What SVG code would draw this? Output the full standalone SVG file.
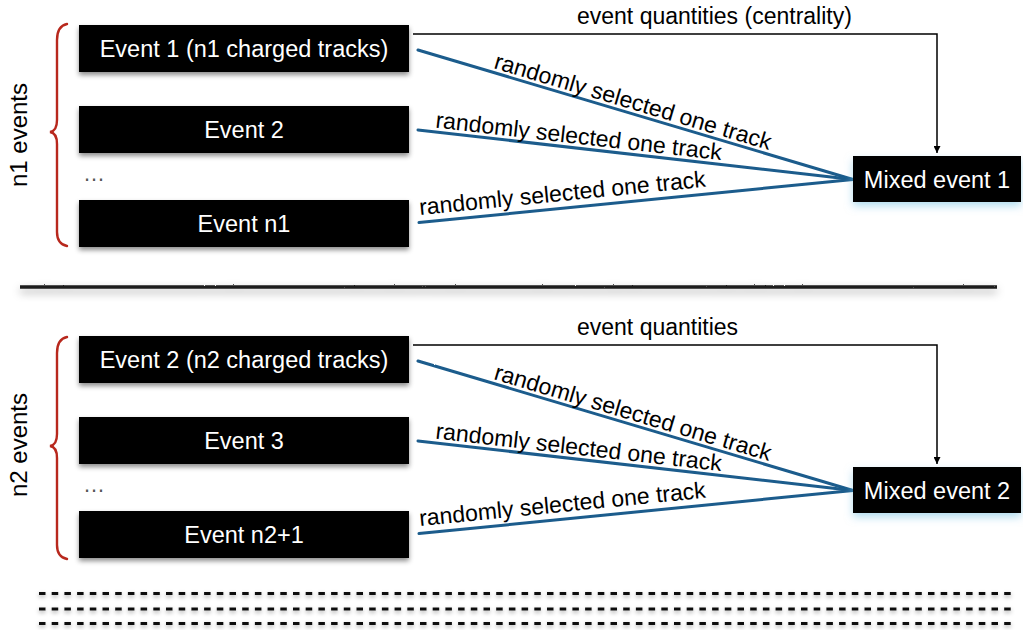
<svg xmlns="http://www.w3.org/2000/svg" width="1023" height="630" viewBox="0 0 1023 630">
<defs>
<style>
.box{fill:#000}
.bt{font-family:"Liberation Sans",Arial,sans-serif;font-size:23.5px;fill:#fff;text-anchor:middle}
.lbl{font-family:"Liberation Sans",Arial,sans-serif;font-size:23px;fill:#000}
.side{font-family:"Liberation Sans",Arial,sans-serif;font-size:24px;fill:#000;text-anchor:middle}
.dots{font-family:"Liberation Sans",Arial,sans-serif;font-size:22px;fill:#555}
.brace{fill:none;stroke:#b8281d;stroke-width:2.4;stroke-linecap:round}
.track{fill:none;stroke:#1a5b8c;stroke-width:3;stroke-linecap:round}
.qty{fill:none;stroke:#000;stroke-width:1.5}
.sep{stroke:#1a1a1a;stroke-width:3.5}
.dash{stroke:#111;stroke-width:3;stroke-dasharray:6.5 6.2}
</style>
<filter id="shadow" x="-10%" y="-30%" width="120%" height="180%">
<feDropShadow dx="0" dy="3" stdDeviation="2.5" flood-color="#000" flood-opacity="0.45"/>
</filter>
<filter id="dshadow" filterUnits="userSpaceOnUse" x="0" y="580" width="1023" height="50">
<feDropShadow dx="0" dy="2" stdDeviation="2" flood-color="#000" flood-opacity="0.35"/>
</filter>
<filter id="glow" x="-10%" y="-30%" width="120%" height="180%">
<feDropShadow dx="0" dy="4" stdDeviation="4" flood-color="#7cc6e4" flood-opacity="0.6"/>
</filter>
<filter id="rough" filterUnits="userSpaceOnUse" x="0" y="0" width="1023" height="630">
<feTurbulence type="fractalNoise" baseFrequency="0.9" numOctaves="1" seed="3" result="n"/>
<feDisplacementMap in="SourceGraphic" in2="n" scale="1.5" xChannelSelector="R" yChannelSelector="G"/>
</filter>
<filter id="sepshadow" filterUnits="userSpaceOnUse" x="0" y="270" width="1023" height="40">
<feTurbulence type="fractalNoise" baseFrequency="0.9" numOctaves="1" seed="5" result="n"/>
<feDisplacementMap in="SourceGraphic" in2="n" scale="2" xChannelSelector="R" yChannelSelector="G" result="d"/>
<feDropShadow in="d" dx="0" dy="4" stdDeviation="4" flood-color="#000" flood-opacity="0.35"/>
</filter>
<marker id="arrow" viewBox="0 0 10 10" refX="10" refY="5" markerWidth="7" markerHeight="7" markerUnits="userSpaceOnUse" orient="auto">
<path d="M0,0 L10,5 L0,10 z" fill="#000"/>
</marker>
</defs>
<rect width="1023" height="630" fill="#fff"/>

<g id="connectors">
<path class="qty" d="M413,34 H937 V153" marker-end="url(#arrow)"/>
<g filter="url(#rough)">
<line class="track" x1="418" y1="50" x2="853" y2="179.5"/>
<line class="track" x1="418" y1="130" x2="853" y2="179.5"/>
<line class="track" x1="419" y1="222.5" x2="853" y2="179.5"/>
</g>
<text class="lbl" x="577" y="24">event quantities (centrality)</text>
<text class="lbl" transform="translate(493,68) rotate(16.58)">randomly selected one track</text>
<text class="lbl" transform="translate(435,127.5) rotate(6.49)">randomly selected one track</text>
<text class="lbl" transform="translate(420,215) rotate(-5.66)">randomly selected one track</text>

<path class="qty" d="M413,345 H937 V464" marker-end="url(#arrow)"/>
<g filter="url(#rough)">
<line class="track" x1="418" y1="361" x2="853" y2="490.5"/>
<line class="track" x1="418" y1="441" x2="853" y2="490.5"/>
<line class="track" x1="419" y1="533.5" x2="853" y2="490.5"/>
</g>
<text class="lbl" x="577" y="335">event quantities</text>
<text class="lbl" transform="translate(493,379) rotate(16.58)">randomly selected one track</text>
<text class="lbl" transform="translate(435,438.5) rotate(6.49)">randomly selected one track</text>
<text class="lbl" transform="translate(420,526) rotate(-5.66)">randomly selected one track</text>
</g>

<g id="group1">
<path class="brace" d="M67,24 Q57,26 57,40 L57,120 Q57,131 50,132 Q57,133 57,144 L57,232 Q57,244 67,246"/>
<text class="side" transform="translate(27,135) rotate(-90)">n1 events</text>
<text class="dots" x="83" y="181">…</text>
</g>
<g id="event1"><rect class="box" x="79" y="25" width="330" height="47" filter="url(#shadow)"/><text class="bt" x="244" y="57">Event 1 (n1 charged tracks)</text></g>
<g id="event2"><rect class="box" x="79" y="106" width="330" height="47" filter="url(#shadow)"/><text class="bt" x="244" y="138">Event 2</text></g>
<g id="eventn1"><rect class="box" x="79" y="200" width="330" height="47" filter="url(#shadow)"/><text class="bt" x="244" y="232">Event n1</text></g>
<g id="mixed1"><rect class="box" x="853" y="156" width="168" height="46" filter="url(#glow)"/><text class="bt" x="937" y="187.5">Mixed event 1</text></g>

<g id="separator">
<line class="sep" x1="20" y1="287" x2="997" y2="287" filter="url(#sepshadow)"/>
</g>

<g id="group2">
<path class="brace" d="M67,337 Q57,339 57,353 L57,434 Q57,445 50,446 Q57,447 57,458 L57,545 Q57,557 67,559"/>
<text class="side" transform="translate(27,445) rotate(-90)">n2 events</text>
<text class="dots" x="83" y="492">…</text>
</g>
<g id="event2b"><rect class="box" x="79" y="336" width="330" height="47" filter="url(#shadow)"/><text class="bt" x="244" y="368">Event 2 (n2 charged tracks)</text></g>
<g id="event3"><rect class="box" x="79" y="417" width="330" height="47" filter="url(#shadow)"/><text class="bt" x="244" y="449">Event 3</text></g>
<g id="eventn2"><rect class="box" x="79" y="511" width="330" height="47" filter="url(#shadow)"/><text class="bt" x="244" y="543">Event n2+1</text></g>
<g id="mixed2"><rect class="box" x="853" y="467" width="168" height="46" filter="url(#glow)"/><text class="bt" x="937" y="498.5">Mixed event 2</text></g>

<g id="continuation" filter="url(#dshadow)">
<line class="dash" x1="39" y1="593.5" x2="1012" y2="593.5"/>
<line class="dash" x1="39" y1="609" x2="1012" y2="609"/>
<line class="dash" x1="39" y1="623.5" x2="1012" y2="623.5"/>
</g>
</svg>
